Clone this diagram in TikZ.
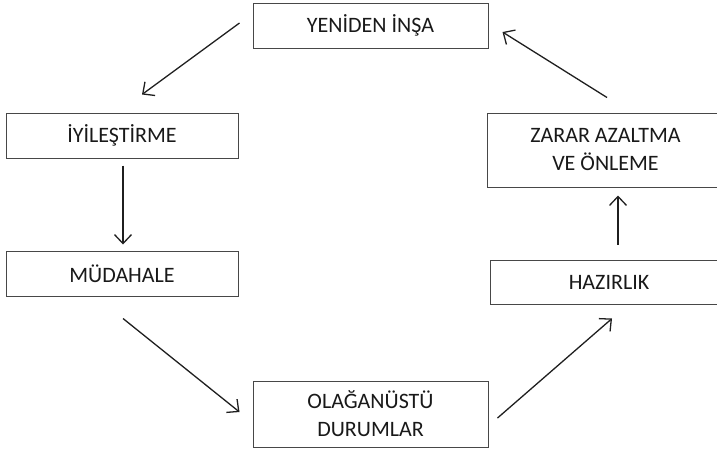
\documentclass[tikz,border=0pt]{standalone}
\usepackage{fontspec}
\setmainfont{Carlito}
\usetikzlibrary{arrows.meta,calc}
\begin{document}
\begin{tikzpicture}[x=1pt,y=-1pt,
  stagebox/.style={draw=black!72, line width=1pt, fill=white, inner sep=0pt,
    align=center, font=\fontsize{22}{28}\selectfont, text=black!90},
  flow/.style={line width=1.3pt, draw=black!88,
    -{Straight Barb[length=9pt,width=17pt,line width=1.3pt]}}]
\useasboundingbox (0,0) rectangle (717,451);
\clip (0,0) rectangle (717,451);
\node[stagebox, minimum width=235pt, minimum height=45pt] (yen) at (370.5,25.5) {YENİDEN İNŞA};
\node[stagebox, minimum width=232pt, minimum height=45pt] (iyi) at (122,135.5) {İYİLEŞTİRME};
\node[stagebox, minimum width=232pt, minimum height=45pt] (mud) at (122,273.5) {MÜDAHALE};
\node[stagebox, minimum width=235pt, minimum height=66pt] (ola) at (370.5,414) {OLAĞANÜSTÜ\\DURUMLAR};
\node[stagebox, minimum width=237pt, minimum height=44pt] (haz) at (609,282) {HAZIRLIK};
\node[stagebox, minimum width=237pt, minimum height=74pt] (zar) at (605.5,150) {ZARAR AZALTMA\\VE ÖNLEME};
\draw[flow] ($(yen.west)+(-13,-2.5)$) -- ($(iyi.north)+(20,-18)$);
\draw[flow] ($(iyi.south)+(1,7)$) -- ($(mud.north)+(1,-6)$);
\draw[flow] ($(mud.south)+(1,22)$) -- ($(ola.west)+(-13,-2)$);
\draw[flow] ($(ola.east)+(9,4)$) -- ($(haz.south)+(3,14)$);
\draw[flow] ($(haz.north)+(9,-15)$) -- ($(zar.south)+(12.5,8)$);
\draw[flow] ($(zar.north)+(1.5,-15)$) -- ($(yen.east)+(14,6.5)$);
\end{tikzpicture}
\end{document}
